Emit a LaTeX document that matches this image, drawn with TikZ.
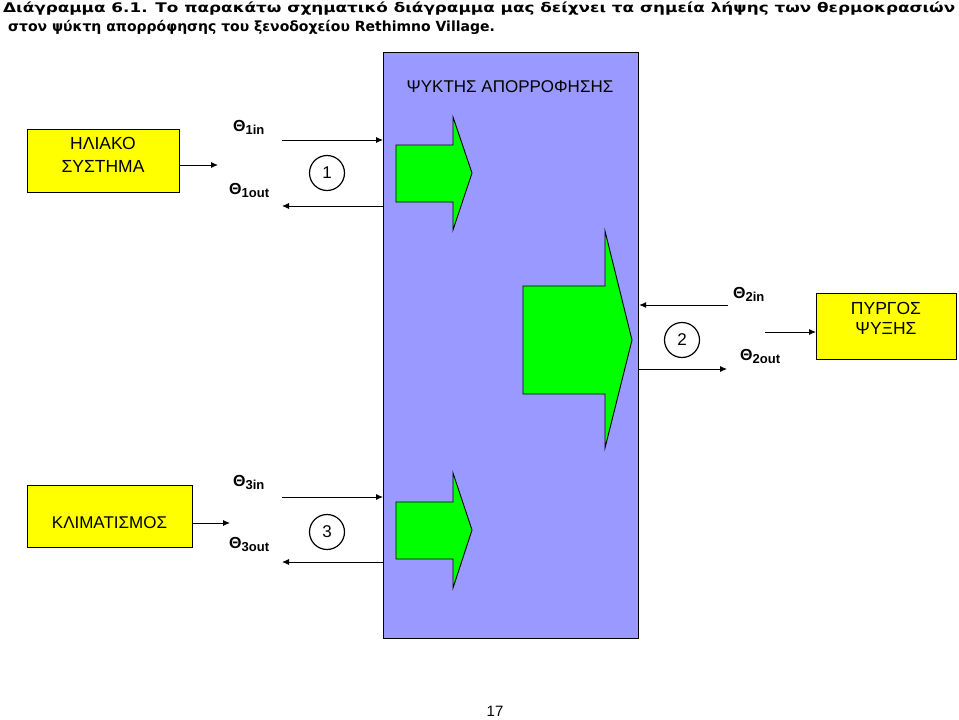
\documentclass[tikz,border=0pt]{standalone}
\usepackage{fontspec}
\setmainfont{Liberation Sans}
\newfontfamily\titlefont{DejaVu Sans}
\usetikzlibrary{arrows.meta}
\definecolor{absblue}{HTML}{9999FF}
\definecolor{boxyellow}{HTML}{FFFF00}
\definecolor{flowgreen}{HTML}{00FF00}
\newcommand{\thlabel}[2]{{\bfseries\fontsize{16}{16}\selectfont #1}{\bfseries\fontsize{13}{13}\selectfont\raisebox{-3pt}{#2}}}
\begin{document}
\begin{tikzpicture}[x=1pt,y=-1pt,
  arr/.style={line width=0.9pt,-{Latex[length=7pt,width=6pt]}},
  ybox/.style={draw,line width=1.1pt,fill=boxyellow,inner sep=0,anchor=north west},
  boxtext/.style={anchor=base,inner sep=0,align=center},
  numcirc/.style={circle,draw,line width=1.2pt,minimum size=35pt,inner sep=0,
    font=\fontsize{17}{17}\selectfont},
  garrow/.style={draw,line width=0.9pt,fill=flowgreen,line join=miter},
  thl/.style={anchor=base west,inner sep=0}]
\useasboundingbox (0,0) rectangle (959,720);
% title
\node[anchor=base west,inner sep=0] (t1) at (3,12.5)
  {\resizebox{952pt}{10.6pt}{\titlefont\bfseries\fontsize{14}{16}\selectfont Διάγραμμα 6.1. Το παρακάτω σχηματικό διάγραμμα μας δείχνει τα σημεία λήψης των θερμοκρασιών}};
\node[anchor=base west,inner sep=0] (t2) at (8,31)
  {\titlefont\bfseries\fontsize{14}{16}\selectfont στον ψύκτη απορρόφησης του ξενοδοχείου Rethimno Village.};
% chiller
\node[draw,line width=1.2pt,fill=absblue,minimum width=255pt,minimum height=586pt,
  anchor=north west,inner sep=0] (chiller) at (383,52) {};
\node[anchor=base,inner sep=0,font=\fontsize{17}{17}\selectfont] (chtitle) at (510,92) {ΨΥΚΤΗΣ ΑΠΟΡΡΟΦΗΣΗΣ};
% green arrows
\draw[garrow] (396,145) -- (453,145) -- (453,117) -- (472,173) -- (453,230) -- (453,202) -- (396,202) -- cycle;
\draw[garrow] (523,286) -- (605,286) -- (605,231) -- (632,340) -- (605,448) -- (605,394) -- (523,394) -- cycle;
\draw[garrow] (396,502) -- (453,502) -- (453,473) -- (472,530) -- (453,588) -- (453,559) -- (396,559) -- cycle;
% yellow boxes
\node[ybox,minimum width=152pt,minimum height=63pt] (solar) at (27,129) {};
\coordinate (solarbase) at (103,172);
\node[boxtext,font=\fontsize{17.5}{23}\selectfont] (solartext) at (solarbase) {ΗΛΙΑΚΟ\\ΣΥΣΤΗΜΑ};
\node[ybox,minimum width=140pt,minimum height=66pt] (tower) at (816,293) {};
\coordinate (towerbase) at (886,334);
\node[boxtext,font=\fontsize{17.5}{20}\selectfont] (towertext) at (towerbase) {ΠΥΡΓΟΣ\\ΨΥΞΗΣ};
\node[ybox,minimum width=165pt,minimum height=62pt] (ac) at (27,485) {};
\coordinate (acbase) at (109.5,528);
\node[boxtext,font=\fontsize{17}{20}\selectfont] (actext) at (acbase) {ΚΛΙΜΑΤΙΣΜΟΣ};
% circles
\node[numcirc] (c1) at (327,173) {1};
\node[numcirc] (c2) at (682,340) {2};
\node[numcirc] (c3) at (327,532) {3};
% labels
\node[thl] (l1in) at (233,131) {\thlabel{Θ}{1in}};
\node[thl] (l1out) at (229,194) {\thlabel{Θ}{1out}};
\node[thl] (l2in) at (733,298) {\thlabel{Θ}{2in}};
\node[thl] (l2out) at (740,360) {\thlabel{Θ}{2out}};
\node[thl] (l3in) at (233,486) {\thlabel{Θ}{3in}};
\node[thl] (l3out) at (229,548) {\thlabel{Θ}{3out}};
% connector coordinates
\coordinate (s1) at (218,165);
\coordinate (i1) at (282,140);
\coordinate (o1) at (282,206);
\coordinate (i2) at (728,305);
\coordinate (o2) at (727,369);
\coordinate (s2) at (765,332);
\coordinate (s3) at (230,523);
\coordinate (i3) at (282,497);
\coordinate (o3) at (282,562);
% connectors
\draw[arr] (solar.east |- s1) -- (s1);
\draw[arr] (i1) -- (i1 -| chiller.west);
\draw[arr] (o1 -| chiller.west) -- (o1);
\draw[arr] (i2) -- (i2 -| chiller.east);
\draw[arr] (o2 -| chiller.east) -- (o2);
\draw[arr] (s2) -- (s2 -| tower.west);
\draw[arr] (ac.east |- s3) -- (s3);
\draw[arr] (i3) -- (i3 -| chiller.west);
\draw[arr] (o3 -| chiller.west) -- (o3);
% page number
\node[inner sep=0,font=\fontsize{15}{15}\selectfont] (page) at (495,711.5) {17};
\end{tikzpicture}
\end{document}
